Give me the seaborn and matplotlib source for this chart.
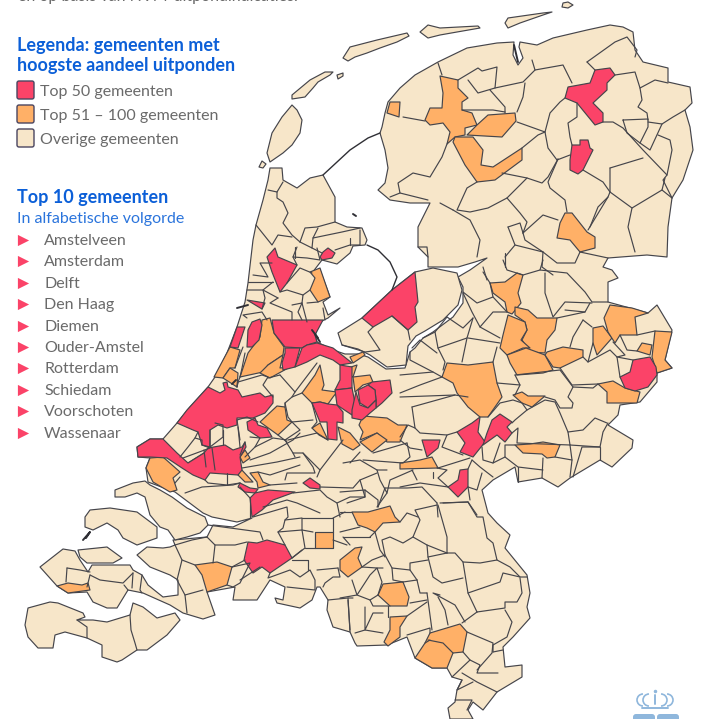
import pandas as pd
import matplotlib
matplotlib.use('Agg')
import matplotlib.pyplot as plt
from matplotlib.patches import FancyBboxPatch, Arc
import seaborn as sns

BEIGE = '#F7E6C9'
ORANGE = '#FFB067'
RED = '#FB4368'
EDGE = '#45454B'
BLUE = '#0B5FD8'
GREY = '#6A6A6A'

legend_labels = ['Top 50 gemeenten', 'Top 51 – 100 gemeenten', 'Overige gemeenten']
legend_colors = [RED, ORANGE, BEIGE]
top10 = ['Amstelveen', 'Amsterdam', 'Delft', 'Den Haag', 'Diemen', 'Ouder-Amstel',
         'Rotterdam', 'Schiedam', 'Voorschoten', 'Wassenaar']

# Map shapes in pixels (x right, y down)
land_shapes = [
    # mainland, clockwise from Den Helder
    [(270,168),(282,168),(283,180),(297,188),(310,178),(323,175),(335,197),(335,222),(347,227),(362,228),
     (367,240),(365,245),(353,246),(350,253),(337,264),(322,260),(312,273),(320,270),(330,297),(323,302),
     (328,315),(340,308),(328,318),(320,322),(315,335),(317,342),(333,350),(345,354),(358,354),(368,357),
     (386,369),(405,368),(410,352),(415,348),(423,338),(433,332),(453,317),(463,303),(463,287),(458,277),
     (470,270),(487,258),(475,262),(458,267),(428,267),(428,257),(418,247),(418,227),(430,203),(410,203),
     (390,200),(378,190),(385,183),(388,168),(385,150),(380,133),(382,127),(385,113),(388,102),(400,88),
     (415,75),(438,62),(467,48),(497,43),(514,42),(513,55),(518,65),(523,58),(519,47),(520,42),(537,45),
     (553,38),(587,30),(610,25),(623,27),(633,32),(635,50),(643,62),(668,68),(668,82),(690,87),(692,103),
     (685,110),(690,127),(693,150),(683,180),(672,198),(668,227),(667,257),(647,255),(608,258),(603,267),
     (612,270),(618,278),(608,282),(608,302),(648,313),(657,305),(672,330),(665,360),(672,368),(657,373),
     (657,382),(640,402),(620,405),(618,415),(608,425),(633,440),(632,448),(612,467),(600,460),(570,478),
     (558,487),(542,478),(518,482),(515,467),(493,480),(482,490),(488,513),(497,523),(510,535),(505,548),
     (527,575),(530,593),(527,607),(530,618),(513,637),(503,647),(505,667),(522,665),(522,677),(497,692),
     (483,710),(473,702),(468,710),(473,719),(450,719),(448,708),(455,702),(457,690),(462,680),(452,677),
     (447,668),(432,668),(415,658),(407,637),(387,645),(357,646),(355,643),(350,632),(333,627),(327,610),
     (328,600),(320,587),(317,587),(312,600),(300,608),(277,603),(275,598),(283,600),(285,587),(270,580),
     (257,600),(233,600),(235,587),(207,592),(215,615),(203,619),(183,613),(170,605),(143,593),(128,590),
     (117,608),(107,608),(93,602),(87,592),(68,593),(57,586),(40,567),(63,549),(75,551),(80,560),(88,572),
     (92,565),(130,565),(133,570),(142,575),(148,585),(163,597),(178,595),(178,580),(170,575),(150,567),
     (137,555),(147,547),(163,548),(170,547),(175,545),(173,540),(207,537),(213,525),(233,527),(252,518),
     (237,522),(212,517),(203,513),(183,498),(175,492),(148,482),(146,468),(150,458),(138,457),(137,447),
     (150,439),(163,439),(177,423),(190,407),(208,387),(215,377),(227,353),(237,327),(245,302),(248,283),
     (253,240),(256,225),(263,200),(268,180)],
    # Flevoland
    [(415,272),(433,268),(457,273),(462,290),(458,305),(443,320),(425,331),(416,336),(408,346),(406,365),
     (387,367),(370,355),(358,349),(342,345),(338,333),(362,318),(392,290)],
    # Noord-Beveland
    [(78,550),(107,547),(122,558),(113,563),(93,563),(87,563),(80,557)],
    # Schouwen-Duiveland
    [(85,517),(90,510),(110,508),(137,512),(157,527),(157,538),(137,545),(123,538),(118,530),(107,523),(93,530),(85,527)],
    # Goeree-Overflakkee
    [(115,490),(133,483),(145,481),(150,485),(160,490),(172,497),(187,508),(205,517),(208,525),(200,533),
     (187,537),(175,540),(168,530),(160,527),(150,515),(145,497),(137,493),(125,497),(115,497)],
    # Zeeuws-Vlaanderen
    [(28,608),(50,602),(58,603),(83,613),(85,617),(77,620),(93,620),(107,622),(130,615),(133,603),(143,607),
     (157,618),(175,613),(180,620),(167,635),(147,650),(137,650),(122,660),(117,662),(102,657),(102,645),
     (87,638),(65,632),(55,635),(53,648),(38,648),(28,637),(25,625)],
    # Wadden islands
    [(292,105),(297,110),(302,120),(300,133),(292,145),(283,153),(270,162),(267,153),(272,133),(282,117)],
    [(262,161),(266,164),(263,168),(259,167)],
    [(292,99),(292,95),(310,80),(325,72),(333,72),(330,75),(318,82),(313,88),(305,97)],
    [(337,75),(343,73),(343,76),(338,79)],
    [(343,58),(350,47),(377,40),(407,33),(409,36),(397,42),(380,48),(367,53),(355,57),(348,61)],
    [(420,32),(428,25),(440,28),(478,26),(480,28),(457,32),(440,35),(428,38)],
    [(505,23),(508,18),(543,13),(552,12),(543,15),(520,23),(508,28)],
    [(563,3),(568,2),(573,5),(568,8),(562,7)],
]

top50_shapes = [
    [(595,70),(610,68),(615,75),(607,83),(607,90),(593,103),(603,113),(603,122),(595,125),(577,103),(565,98),(568,87),(590,83)],
    [(572,145),(580,145),(580,140),(588,140),(590,148),(593,150),(583,170),(578,174),(570,170),(570,160)],
    [(275,248),(278,257),(297,265),(287,283),(280,292),(272,272),(267,257)],
    [(328,248),(335,253),(332,258),(322,260),(320,257),(323,252)],
    [(247,300),(265,303),(262,309)],
    [(237,327),(245,327),(238,348),(230,347)],
    [(252,322),(260,319),(262,325),(259,340),(252,347),(247,347),(248,330)],
    [(272,320),(293,320),(323,320),(315,335),(317,342),(307,345),(302,348),(285,347),(274,333)],
    [(285,348),(300,348),(295,367),(283,370),(282,363),(285,353)],
    [(302,348),(307,345),(317,343),(333,348),(342,355),(352,363),(340,365),(333,360),(320,355),(307,362),(295,367)],
    [(340,365),(352,367),(352,388),(335,390),(340,380)],
    [(335,390),(352,388),(355,403),(352,415),(337,405)],
    [(312,403),(320,402),(328,404),(337,405),(343,412),(343,423),(337,422),(337,440),(328,439),(327,422),(320,422)],
    [(372,382),(390,380),(392,393),(382,403),(376,408),(376,400),(375,390),(368,385)],
    [(368,385),(375,390),(376,400),(368,408),(360,403),(358,390)],
    [(356,392),(360,405),(368,408),(376,400),(376,408),(370,413),(362,420),(352,418),(352,410)],
    # Randstad cluster
    [(208,387),(220,393),(225,390),(223,383),(227,382),(228,387),(238,390),(242,397),(260,393),(265,397),
     (273,395),(273,403),(265,413),(253,418),(237,418),(237,425),(227,428),(218,425),(210,430),(210,447),
     (202,445),(198,432),(193,430),(177,423),(187,410)],
    [(247,422),(255,418),(258,425),(267,428),(272,437),(260,438),(248,430)],
    # Rotterdam band
    [(137,447),(150,439),(163,439),(177,453),(188,463),(204,453),(208,448),(225,445),(233,450),(242,447),
     (245,442),(246,447),(240,457),(242,470),(238,475),(210,473),(205,480),(193,475),(182,468),(167,458),
     (150,457),(138,457)],
    [(240,483),(250,488),(258,489),(255,493),(245,492),(238,487)],
    [(255,493),(268,490),(295,492),(273,500),(262,510),(252,517),(250,498)],
    [(303,483),(310,478),(320,485),(320,489),(310,488)],
    [(248,542),(257,543),(267,540),(285,545),(292,558),(270,573),(262,567),(253,573),(244,560)],
    # Flevoland, Gelderland and Twente
    [(415,272),(418,302),(415,307),(417,322),(408,330),(392,316),(373,327),(362,318),(392,290)],
    [(633,360),(650,357),(656,367),(657,375),(648,387),(635,391),(625,388),(620,377),(630,372)],
    [(457,432),(472,423),(480,417),(478,432),(485,442),(473,457),(460,452),(465,443)],
    [(500,414),(512,422),(507,427),(512,433),(505,442),(497,435),(483,445),(487,433),(492,420)],
    [(422,440),(440,440),(438,448),(427,457)],
    [(460,470),(468,469),(468,487),(458,497),(448,487),(458,480)],
]

top100_shapes = [
    [(390,102),(400,102),(399,117),(387,113)],
    [(440,76),(458,80),(458,88),(468,98),(462,102),(462,110),(472,113),(477,125),(465,128),(465,135),(455,137),
     (447,144),(450,132),(443,123),(430,125),(425,120),(430,108),(442,108),(443,93)],
    [(488,115),(515,113),(516,121),(502,137),(467,135),(477,125)],
    [(455,137),(473,137),(483,150),(481,165),(493,167),(522,148),(522,160),(495,180),(477,182),(465,165),(453,142)],
    [(565,213),(572,213),(587,232),(595,237),(595,248),(580,252),(570,240),(557,238),(560,223)],
    [(320,268),(330,297),(318,302),(310,290),(315,278),(310,272)],
    [(262,320),(270,318),(274,333),(284,347),(283,355),(268,365),(263,372),(240,377),(248,353),(260,337)],
    [(283,355),(280,368),(290,367),(270,378),(260,373),(268,365)],
    [(350,357),(363,352),(365,355),(353,363)],
    [(320,365),(324,385),(322,390),(337,392),(333,397),(328,404),(320,402),(312,403),(302,393),(315,375)],
    [(348,368),(357,365),(353,377),(348,375)],
    [(353,377),(370,375),(373,382),(363,385),(355,392)],
    [(312,428),(320,423),(328,440),(319,435)],
    [(338,427),(350,433),(360,445),(353,450),(342,444)],
    [(363,416),(387,418),(398,425),(407,425),(400,442),(387,442),(377,433),(360,440),(363,432),(359,425)],
    [(360,442),(377,433),(387,440),(372,452)],
    [(277,406),(285,407),(287,420),(292,422),(278,435),(260,422)],
    [(230,347),(240,350),(235,368),(230,368),(223,378),(214,377)],
    [(230,368),(238,373),(237,387),(223,378)],
    [(150,458),(163,457),(180,472),(173,478),(177,490),(170,492),(153,482),(146,468)],
    [(188,463),(204,453),(206,467),(198,467)],
    [(245,450),(250,458),(243,463),(240,457)],
    [(240,468),(253,482),(245,482),(238,475)],
    [(250,473),(258,472),(263,482),(270,485),(258,488),(257,482)],
    [(195,565),(217,562),(232,567),(227,585),(207,592),(202,575)],
    [(57,586),(68,583),(82,585),(88,583),(90,590),(68,593)],
    [(315,532),(333,532),(333,548),(315,548)],
    [(362,547),(355,548),(340,560),(340,570),(348,577),(362,567),(358,558)],
    [(352,512),(368,512),(390,506),(395,517),(400,522),(383,523),(375,532),(367,528),(358,525)],
    [(378,595),(383,584),(403,582),(409,597),(407,606),(390,606)],
    [(390,617),(407,616),(400,627),(400,637),(388,646),(384,642),(390,630)],
    [(430,633),(460,624),(467,632),(463,652),(453,653),(447,668),(432,668),(415,658),(425,643)],
    [(490,283),(505,282),(517,273),(523,275),(518,293),(521,303),(512,314),(507,312),(505,302),(493,293)],
    [(515,307),(528,310),(537,318),(557,318),(555,330),(547,340),(545,353),(530,352),(522,340),(527,330),(525,322),(515,315)],
    [(508,315),(525,322),(527,330),(521,340),(530,348),(523,348),(507,355),(500,348),(503,335)],
    [(507,355),(526,348),(545,355),(553,370),(543,373),(517,375),(510,363)],
    [(547,352),(563,347),(583,350),(583,357),(560,368),(553,367),(545,355)],
    [(593,328),(603,326),(612,338),(597,355),(593,343)],
    [(610,305),(632,308),(648,313),(635,317),(637,335),(620,335),(615,343),(608,332),(604,318)],
    [(655,331),(672,332),(665,360),(672,368),(657,373),(652,357)],
    [(642,343),(652,345),(650,355),(637,351)],
    [(598,384),(613,381),(625,388),(640,392),(637,403),(607,403),(607,392)],
    [(442,377),(447,363),(468,365),(493,362),(497,383),(502,397),(488,417),(480,417),(468,407),(457,393),(453,383)],
    [(513,395),(522,392),(528,396),(545,396),(532,407),(522,403)],
    [(400,463),(420,460),(432,457),(438,468),(400,469)],
    [(515,445),(530,444),(543,442),(560,445),(555,457),(547,458),(542,454),(523,453)],
]

border_lines = [
    [(438,63),(442,75)], [(458,80),(478,68),(482,71),(497,67),(495,88),(478,93),(468,80)],
    [(495,88),(523,82),(535,70),(532,60)], [(490,90),(505,107),(505,113)], [(525,83),(523,97),(517,112)],
    [(462,110),(493,110),(505,112)], [(403,117),(425,121)], [(517,122),(545,132),(550,113),(560,102),(565,98)],
    [(535,70),(563,65),(572,83)], [(545,132),(538,135),(522,148)], [(545,132),(548,148),(557,160),(570,155)],
    [(577,103),(577,117),(568,123),(570,137),(572,145)], [(587,62),(595,70)],
    [(587,62),(615,42),(627,37),(637,50),(635,57)], [(615,75),(635,72),(640,88),(655,80),(668,83)],
    [(640,88),(642,100),(638,107),(647,113),(648,120)], [(603,122),(613,122),(623,128),(643,150),(667,175)],
    [(648,122),(662,124),(673,117),(685,110)], [(623,120),(648,119),(648,127),(640,143),(627,133),(623,120)],
    [(662,124),(650,150),(640,143)], [(658,135),(670,140),(672,150),(667,175),(663,180),(672,198)],
    [(610,168),(643,158)], [(610,168),(610,192),(632,208),(662,190),(665,178)], [(632,208),(628,227),(635,252)],
    [(662,190),(672,198)], [(610,192),(608,197),(588,230)], [(583,170),(603,182),(610,192)],
    [(558,159),(548,182),(550,188),(565,200),(567,212)], [(608,197),(598,207),(590,227)],
    [(502,173),(527,178),(542,183),(548,177),(558,159)], [(477,182),(467,188),(457,210),(470,212),(488,208),(507,198),(527,178)],
    [(507,198),(520,213),(527,222),(523,233)], [(453,210),(470,220),(480,240),(477,257)], [(453,210),(440,203)],
    [(508,227),(520,223),(523,233)], [(508,227),(515,245),(505,257)], [(523,233),(525,240),(543,252)],
    [(523,233),(543,215),(558,220)], [(515,245),(543,252),(542,267),(553,275)], [(543,252),(557,263),(575,263),(580,252)],
    [(580,252),(608,258)], [(390,197),(400,193),(398,183),(413,173),(430,177),(442,157),(447,144)],
    [(400,193),(428,200)], [(418,247),(427,247),(428,257)], [(505,253),(505,267)], [(483,267),(487,280)],
    [(463,292),(477,303),(493,297),(490,283)], [(483,272),(490,283)], [(503,260),(507,270),(523,275),(540,270),(543,260)],
    [(540,270),(567,273),(585,292),(592,302),(608,302)], [(545,273),(545,293),(553,317),(565,302),(592,303)],
    [(493,297),(507,312)], [(507,312),(493,312),(480,327),(472,312),(463,293)], [(480,327),(500,338)],
    [(473,318),(467,338),(462,362)], [(447,317),(435,332),(438,348),(445,362),(443,370)], [(467,338),(438,348)],
    [(447,317),(463,328),(473,318)], [(435,332),(423,338)], [(412,348),(420,340),(437,353)],
    [(410,352),(410,360),(433,372),(442,377)], [(400,375),(433,372)], [(400,393),(420,385),(442,377)],
    [(400,397),(455,395)], [(412,407),(455,395),(468,397)], [(412,407),(415,428),(420,433),(447,435),(457,432)],
    [(447,435),(442,447),(463,455)], [(400,437),(408,425),(415,428)], [(400,440),(410,448),(422,450)],
    [(500,343),(468,338)], [(497,347),(493,362)], [(497,383),(520,385),(515,375)], [(520,385),(515,395)],
    [(515,375),(560,370),(573,387),(568,397),(573,403),(572,408),(560,408),(555,400),(545,397)],
    [(488,417),(500,403),(513,400),(522,403),(527,410),(515,420),(512,423)],
    [(527,410),(545,400),(555,402),(560,413),(568,432),(570,445)], [(512,433),(518,428),(517,443),(570,445),(600,447),(603,432),(608,423)],
    [(568,432),(583,430),(595,418),(607,423)], [(573,387),(593,388),(598,384)], [(600,447),(582,447),(573,477)],
    [(600,447),(600,460)], [(570,445),(572,460),(570,477)], [(555,457),(572,460)], [(543,458),(542,478)],
    [(515,445),(505,445),(505,457),(518,467),(543,470)], [(518,467),(518,482)], [(505,457),(493,463),(500,443)],
    [(482,447),(483,460),(493,463)], [(472,460),(480,467),(493,477)], [(437,468),(447,470),(438,478),(448,487)],
    [(468,469),(472,460)], [(438,468),(470,458)], [(468,487),(477,490),(482,473)], [(400,487),(420,483),(448,487)],
    [(412,470),(417,480)], [(433,472),(433,478)], [(470,500),(468,487)], [(443,503),(468,502),(477,515)],
    [(437,503),(438,517)], [(613,342),(625,355),(617,357),(633,360)], [(583,357),(588,362),(610,350),(617,357)],
    [(560,368),(572,385),(598,384)], [(583,320),(573,337),(570,347)], [(583,320),(592,327)], [(593,343),(588,362)],
    [(565,310),(585,312),(590,303)], [(557,318),(585,312)], [(620,335),(627,350),(637,351)], [(637,335),(655,331)],
    [(620,377),(617,357)],
    # Noord-Holland
    [(268,190),(277,192),(283,182)], [(277,192),(277,198),(283,202),(288,213),(283,223),(292,235),(300,242)],
    [(256,225),(272,245),(278,235),(292,237)], [(300,242),(305,228),(317,227),(335,222)],
    [(300,242),(312,248),(313,238),(318,228)], [(313,238),(342,232),(360,228)], [(312,248),(322,253)],
    [(335,250),(350,245),(360,245),(360,230)], [(350,238),(350,245)], [(295,247),(295,258)],
    [(253,275),(268,277),(260,263),(272,263)], [(248,282),(273,282)], [(247,290),(263,290),(265,298),(262,309)],
    [(273,282),(263,290),(278,298)], [(280,292),(287,290),(303,295),(302,303)], [(287,283),(300,268),(312,273)],
    [(303,295),(310,290)], [(278,298),(270,303),(292,312),(292,320)], [(292,305),(302,303),(298,312),(302,320)],
    [(302,303),(307,322)], [(307,303),(318,302)], [(323,308),(325,320)], [(297,247),(293,257),(307,258),(320,260),(317,248)],
    [(293,257),(297,265)], [(247,318),(243,315),(262,312),(267,320)],
    # Zuid-Holland and Utrecht
    [(240,377),(238,382),(237,387)], [(243,347),(238,360),(235,368)], [(245,353),(242,368),(240,377)],
    [(237,387),(238,382),(262,375),(268,377),(263,385),(273,397)], [(280,375),(295,392),(292,397),(285,403),(285,407)],
    [(280,375),(268,378)], [(295,392),(317,363)], [(292,397),(302,393)], [(312,403),(317,422),(312,428)],
    [(285,403),(288,417),(292,422),(313,420)], [(292,422),(300,430),(285,440)], [(278,435),(287,442)],
    [(285,440),(293,453),(295,457)], [(237,420),(247,417),(258,422)], [(198,432),(195,438),(188,447),(180,457)],
    [(202,445),(202,440),(195,438)], [(202,445),(210,448),(183,458)], [(210,430),(210,447),(223,437),(223,425),(215,423)],
    [(237,420),(240,440)], [(238,427),(240,447)], [(223,430),(223,445)], [(250,437),(260,438),(255,447),(245,457)],
    [(255,447),(273,438),(287,440)], [(250,460),(270,453),(293,440),(300,433)], [(242,468),(277,462),(300,457)],
    [(258,472),(270,475),(300,465)], [(204,450),(206,467)], [(212,448),(215,470)],
    [(205,480),(208,483),(227,485),(240,483)], [(227,473),(227,485)], [(175,483),(180,477)],
    [(250,498),(240,487)], [(270,485),(297,483)], [(288,440),(317,433),(328,440)], [(303,453),(320,470),(343,440)],
    [(293,453),(303,453),(313,467),(315,473),(287,473),(285,480)], [(317,477),(320,470)], [(350,463),(360,452)],
    [(343,463),(360,460),(377,470),(387,470)], [(373,453),(407,443)], [(363,460),(403,463),(410,457),(407,443)],
    [(377,470),(380,480),(387,493),(390,480),(413,470)], [(320,487),(353,488),(360,480),(377,473)],
    [(293,493),(320,490),(327,497),(337,503),(350,497),(365,497),(360,480)], [(337,503),(340,517)],
    [(263,507),(287,500),(297,503),(320,513)], [(387,493),(377,507)],
    # Brabant and Zeeland
    [(185,493),(202,487),(233,485),(240,483)], [(250,518),(250,498)], [(208,525),(260,532),(263,540)],
    [(253,517),(287,507),(288,517),(285,520),(283,528),(278,532),(285,545)], [(285,520),(302,518),(302,530),(313,532)],
    [(302,518),(333,518),(333,532)], [(278,532),(302,530),(305,548),(292,558)], [(305,548),(315,548)],
    [(333,540),(347,545)], [(333,518),(345,512)], [(343,537),(350,545)], [(207,537),(215,545),(213,563)],
    [(215,545),(235,545),(247,542)], [(232,567),(245,560)], [(175,545),(182,560),(195,565)], [(175,545),(192,540),(207,537)],
    [(182,560),(177,580),(185,595),(203,590)], [(185,595),(187,613)], [(232,567),(250,563),(240,583),(233,587),(227,585)],
    [(240,580),(260,567)], [(270,573),(268,578),(290,570),(300,577),(310,570),(315,580),(315,590),(287,587)],
    [(292,558),(302,550)], [(292,560),(308,560),(308,570)], [(317,570),(338,568)], [(338,568),(340,577),(333,577),(325,583),(323,587)],
    [(328,600),(348,598),(353,598)], [(348,598),(350,632)], [(90,575),(100,580),(123,583),(133,573)], [(90,575),(87,587)],
    [(67,568),(80,570),(90,572)], [(67,568),(66,582)], [(124,585),(128,590)], [(142,575),(140,590),(142,593)], [(133,573),(132,588)],
    [(87,638),(87,627),(77,620)], [(130,615),(131,630),(135,643),(137,650)],
    # Oost-Brabant and Limburg
    [(440,503),(468,502)], [(438,505),(447,537),(447,553)], [(447,553),(427,545),(413,537),(420,520),(415,510),(437,505)],
    [(447,553),(428,557)], [(427,545),(428,557),(433,577),(442,583),(463,578)],
    [(447,553),(455,553),(463,562),(480,563),(497,560),(493,543),(487,538),(483,517),(477,517),(468,502)],
    [(463,562),(468,593),(477,612)], [(468,593),(500,582),(503,573),(520,577),(527,577)], [(497,560),(510,567),(520,577)],
    [(520,578),(522,593),(517,602),(505,602),(505,608),(477,612)], [(477,612),(462,623)],
    [(505,610),(512,622),(507,637),(493,645),(493,652)], [(440,595),(433,593),(455,605),(465,622)], [(438,597),(445,610),(448,625)],
    [(427,593),(432,630)], [(427,600),(410,603)], [(417,580),(420,593),(427,593)], [(417,580),(410,570),(410,563),(428,560)],
    [(410,570),(392,568),(385,555),(382,540),(390,537),(403,543),(413,537)], [(392,568),(393,580),(403,582)],
    [(417,580),(403,582)], [(383,568),(377,568),(382,582),(378,595)], [(370,537),(375,532),(380,550),(385,557)],
    [(370,537),(343,537)], [(362,567),(372,560),(385,555)], [(362,567),(377,568),(370,575),(357,595),(352,580)],
    [(340,598),(357,595),(370,600),(378,595)], [(370,600),(373,606),(390,606)], [(388,606),(388,617)], [(348,600),(350,630)],
    [(365,607),(365,630),(373,613),(383,613)], [(355,633),(365,630),(383,633)], [(407,616),(427,602)], [(407,635),(430,628),(430,633)],
    [(467,632),(493,643),(492,653),(477,670)], [(503,650),(493,652)], [(463,652),(470,660),(480,665),(477,673),(498,673)],
    [(452,677),(470,660)], [(462,673),(477,682),(497,692)], [(462,680),(457,690),(473,682)], [(455,700),(472,700),(467,710)],
    [(340,492),(365,490),(365,497),(347,503)], [(378,507),(385,488)], [(385,488),(407,488),(422,487),(437,503)],
    [(365,490),(378,500),(378,507)], [(400,522),(407,513),(418,517)], [(340,512),(352,512)], [(340,532),(360,527)],
    [(428,640),(443,643),(453,653)], [(430,640),(425,643)],
    # Flevoland and Rotterdam band details
    [(373,327),(368,332),(380,350),(365,352),(342,345)], [(392,316),(408,330),(410,340)],
    [(245,442),(240,455)],
]
# Small harbour and dam strokes
harbour_lines = [
    [(237,308),(248,305)], [(83,540),(90,532),(86,538)], [(353,214),(356,216)],
    [(312,330),(318,338)], [(315,334),(320,342)], [(514,45),(518,62)], [(236,380),(232,384)],
]
# Afsluitdijk and Houtribdijk
dike_lines = [
    [(323,175),(350,150),(368,138),(380,133)],
    [(367,245),(378,250),(390,262),(397,277),(392,290)],
]


def make_border_frame(lines):
    rows = []
    for line_id, line in enumerate(lines):
        for x, y in line:
            rows.append({'line': line_id, 'x': x, 'y': y})
    return pd.DataFrame(rows)


def draw_shapes(ax, shapes, color):
    for shape in shapes:
        xs = [p[0] for p in shape]
        ys = [p[1] for p in shape]
        ax.fill(xs, ys, facecolor=color, edgecolor=EDGE, linewidth=0.85, joinstyle='round')


def draw_logo(ax):
    color = '#8FB7DC'
    for cx, t1, t2 in [(643, 90, 270), (649, 90, 270), (661, 270, 90), (667, 270, 90)]:
        ax.add_patch(Arc((cx, 700), 12, 12, theta1=t1, theta2=t2, color=color, lw=1.2))
    ax.plot([655, 655], [695, 704], color=color, lw=1.4)
    ax.plot([655], [691], 'o', color=color, ms=1.5)
    ax.plot([642, 668], [708, 708], color=color, lw=1.4)
    for x0 in [633, 657]:
        ax.add_patch(FancyBboxPatch((x0 + 3, 717), 16, 6, boxstyle='round,pad=3', fc=color, ec='none', clip_on=True))


def main():
    sns.set_theme(style='white')
    plt.rcParams['font.family'] = ['Lato', 'DejaVu Sans']

    fig = plt.figure(figsize=(7.19, 7.19), dpi=100)
    ax = fig.add_axes([0, 0, 1, 1])

    draw_shapes(ax, land_shapes, BEIGE)
    draw_shapes(ax, top100_shapes, ORANGE)
    draw_shapes(ax, top50_shapes, RED)

    sns.lineplot(data=make_border_frame(border_lines), x='x', y='y', units='line', estimator=None,
                 sort=False, color=EDGE, linewidth=0.85, legend=False, ax=ax)
    sns.lineplot(data=make_border_frame(dike_lines), x='x', y='y', units='line', estimator=None,
                 sort=False, color='#2F2F35', linewidth=1.0, legend=False, ax=ax)
    sns.lineplot(data=make_border_frame(harbour_lines), x='x', y='y', units='line', estimator=None,
                 sort=False, color='#2F2F35', linewidth=1.4, legend=False, ax=ax)

    # intro sentence, cropped by the top edge just as in the reference
    ax.text(18, -3, 'en op basis van NVM-uitpondindicaties.', color=GREY, fontsize=11.5, va='center')

    ax.text(17, 45, 'Legenda: gemeenten met', color=BLUE, fontsize=13, fontweight='bold', va='center')
    ax.text(17, 65, 'hoogste aandeel uitponden', color=BLUE, fontsize=13, fontweight='bold', va='center')
    for i, (label, color) in enumerate(zip(legend_labels, legend_colors)):
        y = 90 + i * 24
        ax.add_patch(FancyBboxPatch((19, y - 7), 13, 14, boxstyle='round,pad=2', fc=color, ec='#4A4560', lw=1.0))
        ax.text(40, y + 2, label, color=GREY, fontsize=11.5, va='center')

    ax.text(17, 197, 'Top 10 gemeenten', color=BLUE, fontsize=13, fontweight='bold', va='center')
    ax.text(17, 219, 'In alfabetische volgorde', color='#2A74DC', fontsize=11.5, va='center')

    top10_df = pd.DataFrame({'x': [23] * len(top10), 'y': [240 + i * 21.4 for i in range(len(top10))]})
    sns.scatterplot(data=top10_df, x='x', y='y', marker='>', color=RED, s=65, linewidth=0, legend=False, ax=ax)
    for name, y in zip(top10, top10_df['y']):
        ax.text(44, y + 1, name, color=GREY, fontsize=11.5, va='center')

    draw_logo(ax)

    ax.set_xlim(0, 719)
    ax.set_ylim(719, 0)
    ax.axis('off')
    fig.savefig('out.png', dpi=100, facecolor='white')


if __name__ == "__main__":
    main()
